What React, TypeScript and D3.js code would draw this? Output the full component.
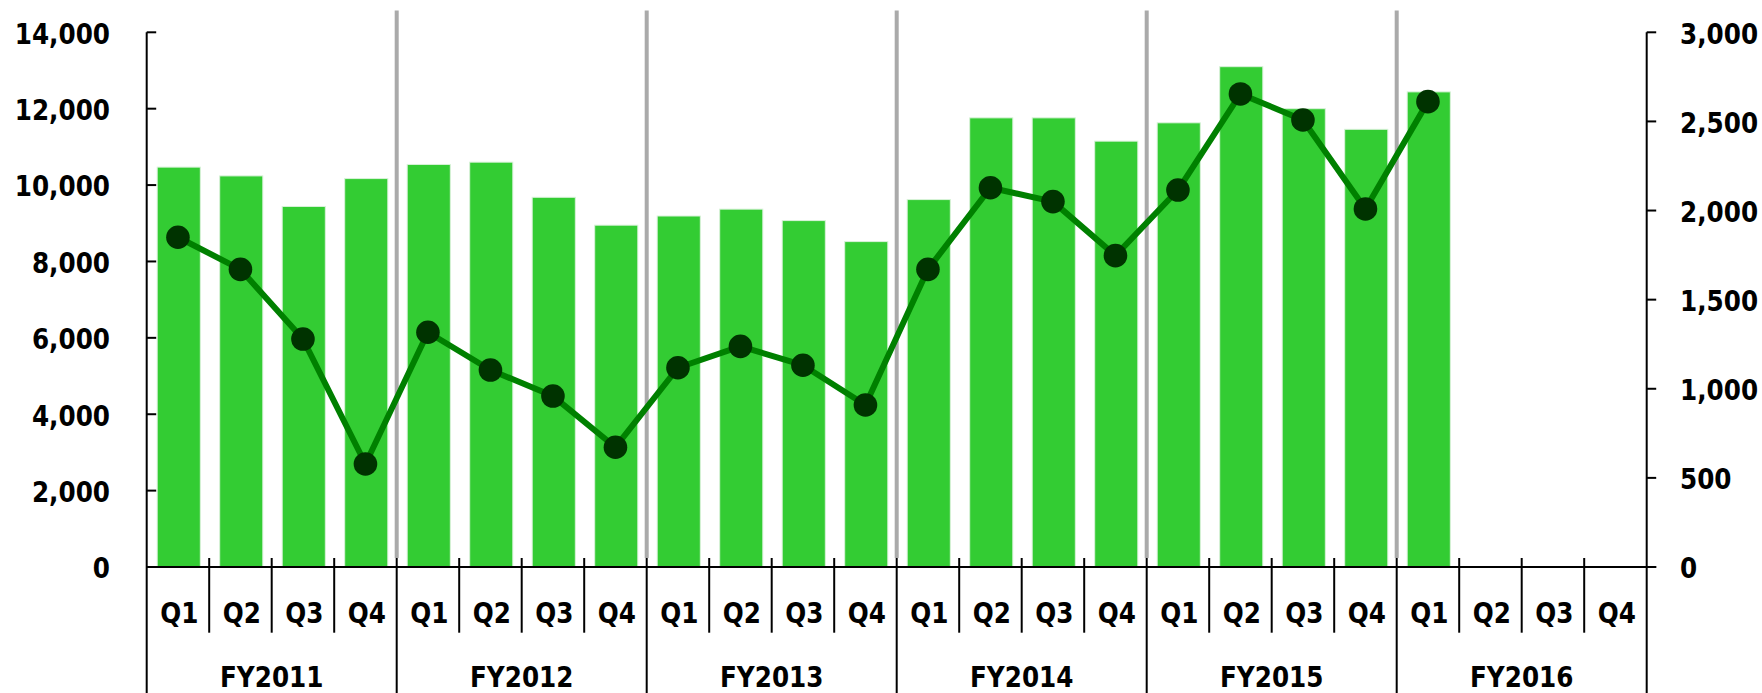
import React from "react";
import * as d3 from "d3";

const years = ["FY2011", "FY2012", "FY2013", "FY2014", "FY2015", "FY2016"];
const quarters = ["Q1", "Q2", "Q3", "Q4"];
const barValues = [
  10470, 10240, 9440, 10170,
  10540, 10600, 9680, 8950,
  9190, 9370, 9070, 8520,
  9620, 11760, 11760, 11150,
  11630, 13100, 12000, 11460,
  12440,
];
const lineValues = [
  1850, 1670, 1279, 578,
  1317, 1105, 959, 672,
  1118, 1238, 1132, 909,
  1670, 2128, 2050, 1747,
  2115, 2654, 2508, 2009,
  2611,
];
const leftTicks = [0, 2000, 4000, 6000, 8000, 10000, 12000, 14000];
const rightTicks = [0, 500, 1000, 1500, 2000, 2500, 3000];

const W = 1762;
const H = 693;
const X0 = 146.7;
const X1 = 1646.7;
const Y0 = 567;
const YT = 32.3;
const FONT = "'DejaVu Sans Condensed', 'DejaVu Sans', sans-serif";

const textStyle: React.CSSProperties = {
  fontFamily: FONT,
  fontWeight: "bold",
  fontSize: 28,
  fontStretch: "condensed",
};

function Label(props: { x: number; y: number; anchor: string; children: React.ReactNode }) {
  return (
    <text
      transform={`translate(${props.x},${props.y}) scale(0.98,1.04)`}
      textAnchor={props.anchor}
      dominantBaseline="central"
      style={textStyle}
      fill="#000"
    >
      {props.children}
    </text>
  );
}

export default function App() {
  const cats = d3.range(years.length * quarters.length);
  const x = d3.scaleBand<number>().domain(cats).range([X0, X1]).padding(0);
  const bw = x.bandwidth();
  const barW = bw * 0.69;
  const yL = d3.scaleLinear().domain([0, 14000]).range([Y0, YT]);
  const yR = d3.scaleLinear().domain([0, 3000]).range([Y0, YT]);
  const fmt = d3.format(",");
  const cx = (i: number) => (x(i) as number) + bw / 2;

  const line = d3
    .line<number>()
    .x((_, i) => cx(i))
    .y((d) => yR(d));

  return (
    <div style={{ position: "absolute", left: 0, top: 0 }}>
      <svg width={W} height={H} viewBox={`0 0 ${W} ${H}`} style={{ display: "block", background: "#fff" }}>
        {barValues.map((v, i) => (
          <rect
            key={"b" + i}
            x={cx(i) - barW / 2 + 0.8}
            y={yL(v)}
            width={barW}
            height={Y0 - yL(v)}
            fill="#33cc33"
            stroke="#d9f2d9"
            strokeWidth={1}
          />
        ))}
        {d3.range(1, years.length).map((k) => {
          const xx = x(k * 4) as number;
          return (
            <line key={"g" + k} x1={xx} x2={xx} y1={10.5} y2={558} stroke="#aaaaaa" strokeWidth={4} />
          );
        })}
        <path d={line(lineValues) || ""} fill="none" stroke="#008000" strokeWidth={6} strokeLinejoin="round" />
        {lineValues.map((v, i) => (
          <circle key={"c" + i} cx={cx(i)} cy={yR(v)} r={11.8} fill="#003300" />
        ))}
        <line x1={X0} x2={X0} y1={YT} y2={H} stroke="#000" strokeWidth={2} />
        <line x1={X1} x2={X1} y1={YT} y2={H} stroke="#000" strokeWidth={2} />
        <line x1={X0} x2={X1 + 9.5} y1={Y0} y2={Y0} stroke="#000" strokeWidth={2} />
        {leftTicks.map((t) => (
          <g key={"lt" + t}>
            <line x1={X0} x2={X0 + 9.5} y1={yL(t)} y2={yL(t)} stroke="#000" strokeWidth={2} />
            <Label x={110} y={yL(t) + 1.5} anchor="end">{fmt(t)}</Label>
          </g>
        ))}
        {rightTicks.map((t) => (
          <g key={"rt" + t}>
            <line x1={X1} x2={X1 + 9.5} y1={yR(t)} y2={yR(t)} stroke="#000" strokeWidth={2} />
            <Label x={1680} y={yR(t) + 1.5} anchor="start">{fmt(t)}</Label>
          </g>
        ))}
        {cats.slice(1).map((i) => {
          const xx = x(i) as number;
          const isYear = i % 4 === 0;
          return (
            <line
              key={"s" + i}
              x1={xx}
              x2={xx}
              y1={558}
              y2={isYear ? H : 632.7}
              stroke="#000"
              strokeWidth={2}
            />
          );
        })}
        {cats.map((i) => (
          <Label key={"q" + i} x={cx(i) + 1.5} y={613} anchor="middle">
            {quarters[i % 4]}
          </Label>
        ))}
        {years.map((yname, k) => (
          <Label key={"y" + k} x={(x(k * 4) as number) + bw * 2} y={677} anchor="middle">
            {yname}
          </Label>
        ))}
      </svg>
    </div>
  );
}
